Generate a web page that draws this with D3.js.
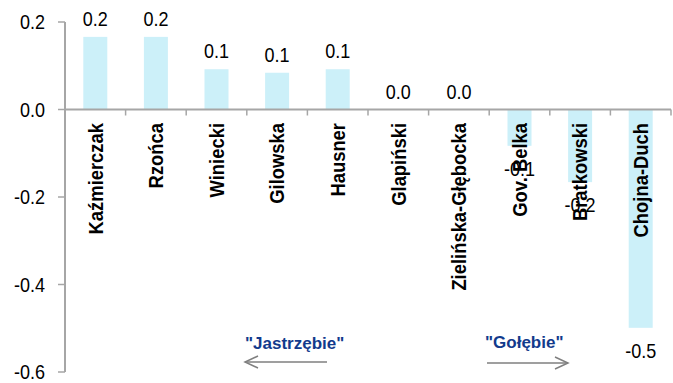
<!DOCTYPE html>
<html>
<head>
<meta charset="utf-8">
<script src="https://cdn.jsdelivr.net/npm/d3@7/dist/d3.min.js"></script>
<style>
  html, body { margin: 0; padding: 0; background: #fff; }
  svg { display: block; font-family: "Liberation Sans", Arial, sans-serif; }
</style>
</head>
<body>
<svg id="chart" width="673" height="383"></svg>
<script>
// Members of the council and their score on the hawk/dove scale
const members = ["Kaźmierczak", "Rzońca", "Winiecki", "Gilowska", "Hausner",
                 "Glapiński", "Zielińska-Głębocka", "Gov. Belka", "Bratkowski", "Chojna-Duch"];
const scores = [0.166, 0.166, 0.092, 0.084, 0.092, 0.0, 0.0, -0.083, -0.166, -0.499];
const yTicks = [0.2, 0.0, -0.2, -0.4, -0.6];
const hawksLabel = "\"Jastrzębie\"";
const dovesLabel = "\"Gołębie\"";

const svg = d3.select("#chart");
const axisColor = "#a6a6a6";
const barColor = "#ccf0f9";
const fmt = d3.formatLocale({ decimal: ".", thousands: ",", grouping: [3],
                              currency: ["", ""], minus: "-" }).format(".1f");
const narrow = 0.9;      // horizontal squeeze of the numeric labels
const narrowCat = 0.92;  // squeeze of the rotated member names

const y = d3.scaleLinear().domain([-0.6, 0.2]).range([372, 22]);
const x = d3.scaleBand().domain(members).range([65, 671])
  .paddingInner(0.604).paddingOuter(0.302);
const step = x.step();
const y0 = y(0);
const rows = members.map((m, i) => ({ m, v: scores[i] }));

// bars
svg.append("g").selectAll("rect").data(rows).join("rect")
  .attr("x", d => x(d.m))
  .attr("width", x.bandwidth())
  .attr("y", d => Math.min(y(d.v), y0))
  .attr("height", d => Math.abs(y(d.v) - y0))
  .attr("fill", barColor);

// value axis
svg.append("line")
  .attr("x1", 65).attr("x2", 65).attr("y1", y(0.2)).attr("y2", y(-0.6))
  .attr("stroke", axisColor).attr("stroke-width", 2);
svg.append("g").selectAll("line").data(yTicks).join("line")
  .attr("x1", 58).attr("x2", 65)
  .attr("y1", d => y(d)).attr("y2", d => y(d))
  .attr("stroke", axisColor).attr("stroke-width", 1.5);
svg.append("g").selectAll("text").data(yTicks).join("text")
  .attr("transform", d => `translate(45,${y(d)}) scale(${narrow},1)`)
  .attr("dy", "0.36em")
  .attr("text-anchor", "end").attr("font-size", 20).attr("fill", "#000")
  .text(d => fmt(d));

// category axis along zero
svg.append("line")
  .attr("x1", 65).attr("x2", 671).attr("y1", y0).attr("y2", y0)
  .attr("stroke", axisColor).attr("stroke-width", 2);
const boundaries = d3.range(1, members.length + 1).map(i => 65 + i * step);
svg.append("g").selectAll("line").data(boundaries).join("line")
  .attr("x1", d => d).attr("x2", d => d)
  .attr("y1", y0).attr("y2", y0 + 6)
  .attr("stroke", axisColor).attr("stroke-width", 1.5);

// value labels
svg.append("g").selectAll("text").data(rows).join("text")
  .attr("transform", d => {
    const cx = x(d.m) + x.bandwidth() / 2;
    const cy = d.v < 0 ? y(d.v) + 30 : Math.min(y(d.v), y0) - 11;
    return `translate(${cx},${cy}) scale(${narrow},1)`;
  })
  .attr("text-anchor", "middle").attr("font-size", 20).attr("fill", "#000")
  .text(d => fmt(d.v));

// category labels, rotated
svg.append("g").selectAll("text").data(members).join("text")
  .attr("transform", d =>
    `translate(${x(d) + x.bandwidth() / 2},${y0 + 13.5}) rotate(-90) scale(${narrowCat},1)`)
  .attr("dy", "0.36em")
  .attr("text-anchor", "end").attr("font-size", 20).attr("font-weight", "bold")
  .attr("fill", "#000")
  .text(d => d);

// hawk / dove annotations
const annColor = "#123a8c";
const arrowColor = "#7f7f7f";
svg.append("text").attr("x", 245).attr("y", 349)
  .attr("font-size", 17).attr("font-weight", "bold").attr("fill", annColor)
  .text(hawksLabel);
svg.append("text").attr("x", 485).attr("y", 348)
  .attr("font-size", 17).attr("font-weight", "bold").attr("fill", annColor)
  .text(dovesLabel);

function arrow(xFrom, xTo, yy) {
  const dir = Math.sign(xTo - xFrom);
  svg.append("line").attr("x1", xFrom).attr("x2", xTo).attr("y1", yy).attr("y2", yy)
    .attr("stroke", arrowColor).attr("stroke-width", 1.5);
  svg.append("path")
    .attr("d", `M${xTo - dir * 13},${yy - 6} L${xTo},${yy} L${xTo - dir * 13},${yy + 6}`)
    .attr("fill", "none").attr("stroke", arrowColor).attr("stroke-width", 1.5);
}
arrow(327, 245, 362);
arrow(487, 568, 363);
</script>
</body>
</html>
